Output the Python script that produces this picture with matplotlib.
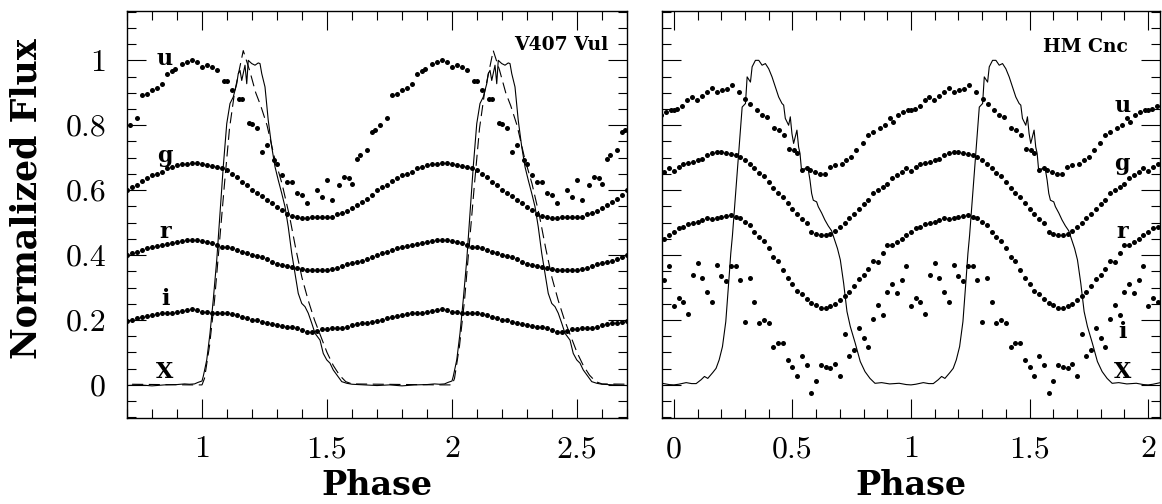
import numpy as np
import matplotlib
matplotlib.use('Agg')
import matplotlib.pyplot as plt
from matplotlib.ticker import MultipleLocator, FormatStrFormatter

# phase grid of the folded optical light curves (one cycle)
grid = [0.00, 0.02, 0.04, 0.06, 0.08, 0.10, 0.12, 0.14, 0.16, 0.18,
        0.20, 0.22, 0.24, 0.26, 0.28, 0.30, 0.32, 0.34, 0.36, 0.38,
        0.40, 0.42, 0.44, 0.46, 0.48, 0.50, 0.52, 0.54, 0.56, 0.58,
        0.60, 0.62, 0.64, 0.66, 0.68, 0.70, 0.72, 0.74, 0.76, 0.78,
        0.80, 0.82, 0.84, 0.86, 0.88, 0.90, 0.92, 0.94, 0.96, 0.98]

# ---- V407 Vul ----
vul_u_ph = [0.00, 0.02, 0.04, 0.06, 0.087, 0.10, 0.12, 0.147, 0.16, 0.187, 0.20, 0.22,
            0.24, 0.26, 0.287, 0.30, 0.32, 0.34, 0.36, 0.38, 0.40, 0.42, 0.46, 0.48,
            0.50, 0.52, 0.547, 0.567, 0.587, 0.60, 0.62, 0.633, 0.66, 0.68, 0.693, 0.713,
            0.74, 0.76, 0.78, 0.80, 0.82, 0.84, 0.86, 0.88, 0.893, 0.92, 0.94, 0.96, 0.98]
vul_u = [0.980, 0.985, 0.980, 0.969, 0.936, 0.936, 0.910, 0.882, 0.882, 0.807, 0.803, 0.790,
         0.718, 0.738, 0.694, 0.682, 0.646, 0.626, 0.626, 0.592, 0.585, 0.559, 0.600, 0.580,
         0.631, 0.569, 0.615, 0.641, 0.636, 0.620, 0.697, 0.708, 0.723, 0.780, 0.785, 0.800,
         0.821, 0.892, 0.897, 0.908, 0.916, 0.928, 0.957, 0.967, 0.974, 0.990, 0.995, 1.000, 0.995]
vul_g = [0.682, 0.677, 0.674, 0.672, 0.667, 0.662, 0.651, 0.641, 0.626, 0.615,
         0.602, 0.592, 0.581, 0.571, 0.559, 0.549, 0.538, 0.528, 0.520, 0.518,
         0.515, 0.515, 0.516, 0.516, 0.516, 0.518, 0.518, 0.526, 0.530, 0.536,
         0.544, 0.554, 0.564, 0.574, 0.585, 0.600, 0.610, 0.617, 0.629, 0.636,
         0.646, 0.651, 0.656, 0.667, 0.672, 0.677, 0.680, 0.682, 0.684, 0.684]
vul_r = [0.444, 0.441, 0.436, 0.431, 0.426, 0.424, 0.421, 0.415, 0.410, 0.405,
         0.400, 0.397, 0.393, 0.387, 0.379, 0.374, 0.369, 0.366, 0.362, 0.359,
         0.356, 0.355, 0.355, 0.355, 0.355, 0.355, 0.356, 0.359, 0.366, 0.372,
         0.377, 0.379, 0.383, 0.387, 0.395, 0.400, 0.405, 0.410, 0.415, 0.421,
         0.424, 0.428, 0.431, 0.434, 0.438, 0.441, 0.444, 0.446, 0.446, 0.446]
vul_i = [0.226, 0.226, 0.223, 0.220, 0.220, 0.220, 0.218, 0.215, 0.210, 0.205,
         0.200, 0.200, 0.195, 0.190, 0.188, 0.185, 0.182, 0.179, 0.177, 0.174,
         0.169, 0.164, 0.164, 0.167, 0.171, 0.173, 0.174, 0.174, 0.174, 0.179,
         0.185, 0.188, 0.190, 0.192, 0.195, 0.198, 0.200, 0.205, 0.208, 0.212,
         0.215, 0.218, 0.220, 0.220, 0.223, 0.226, 0.229, 0.231, 0.233, 0.231]
# X-ray, solid
vul_x_ph = [-0.05, -0.03, -0.015, 0.0, 0.005, 0.019, 0.032, 0.045, 0.059, 0.072, 0.085, 0.099,
            0.112, 0.125, 0.139, 0.145, 0.152, 0.159, 0.165, 0.172, 0.179, 0.185, 0.192, 0.199,
            0.212, 0.225, 0.232, 0.239, 0.252, 0.265, 0.279, 0.292, 0.305, 0.319, 0.332, 0.345,
            0.359, 0.372, 0.385, 0.399, 0.412, 0.425, 0.439, 0.452, 0.472, 0.485, 0.499, 0.512,
            0.525, 0.539, 0.559, 0.579, 0.60, 0.65, 0.70, 0.75, 0.80, 0.85, 0.90, 0.93, 0.95]
vul_x = [0.002, 0.003, 0.008, 0.012, 0.026, 0.077, 0.159, 0.262, 0.385, 0.528, 0.672, 0.805,
         0.867, 0.887, 0.928, 0.959, 0.969, 0.938, 0.959, 0.985, 0.928, 1.0, 0.995, 0.990,
         0.985, 0.992, 0.990, 0.959, 0.918, 0.815, 0.733, 0.672, 0.631, 0.590, 0.549, 0.487,
         0.405, 0.344, 0.282, 0.251, 0.241, 0.221, 0.190, 0.159, 0.138, 0.097, 0.077, 0.067,
         0.046, 0.031, 0.010, 0.005, 0.002, 0.0, -0.002, 0.0, -0.003, 0.0, 0.001, 0.003, 0.002]
# X-ray, dashed
vul_x2_ph = [-0.05, 0.0, 0.01, 0.03, 0.05, 0.07, 0.09, 0.11, 0.13, 0.165, 0.19, 0.215, 0.235, 0.26,
             0.29, 0.32, 0.35, 0.375, 0.40, 0.425, 0.45, 0.475, 0.50, 0.525, 0.55, 0.575, 0.60, 0.95]
vul_x2 = [0.0, 0.0, 0.02, 0.12, 0.26, 0.44, 0.62, 0.79, 0.90, 1.03, 0.97, 0.90, 0.86, 0.80,
          0.70, 0.62, 0.52, 0.42, 0.33, 0.26, 0.20, 0.15, 0.10, 0.06, 0.03, 0.01, 0.003, 0.0]

# ---- HM Cnc ----
hm_u_ph = [0.0, 0.015, 0.036, 0.057, 0.078, 0.099, 0.120, 0.141, 0.162, 0.183, 0.204, 0.225,
           0.246, 0.274, 0.302, 0.323, 0.351, 0.372, 0.393, 0.421, 0.442, 0.463, 0.484, 0.505,
           0.519, 0.539, 0.560, 0.574, 0.595, 0.616, 0.637, 0.658, 0.679, 0.707, 0.728, 0.749,
           0.770, 0.798, 0.819, 0.840, 0.868, 0.889, 0.910, 0.924, 0.945, 0.966, 0.987]
hm_u = [0.846, 0.851, 0.858, 0.877, 0.887, 0.879, 0.889, 0.903, 0.916, 0.903, 0.908, 0.913,
        0.923, 0.903, 0.882, 0.867, 0.846, 0.831, 0.826, 0.790, 0.785, 0.769, 0.728, 0.723,
        0.713, 0.662, 0.667, 0.662, 0.656, 0.651, 0.651, 0.672, 0.677, 0.682, 0.692, 0.703,
        0.723, 0.744, 0.769, 0.780, 0.790, 0.800, 0.821, 0.810, 0.831, 0.841, 0.846]
hm_g = [0.660, 0.672, 0.682, 0.684, 0.687, 0.692, 0.697, 0.708, 0.715, 0.718,
        0.718, 0.713, 0.711, 0.708, 0.703, 0.694, 0.682, 0.667, 0.652, 0.643,
        0.626, 0.608, 0.592, 0.578, 0.560, 0.542, 0.526, 0.510, 0.500, 0.470,
        0.466, 0.461, 0.462, 0.466, 0.474, 0.487, 0.500, 0.514, 0.527, 0.541,
        0.556, 0.569, 0.590, 0.600, 0.610, 0.620, 0.636, 0.646, 0.656, 0.667]
hm_r = [0.472, 0.482, 0.487, 0.495, 0.500, 0.503, 0.508, 0.513, 0.510, 0.513,
        0.518, 0.521, 0.523, 0.518, 0.513, 0.503, 0.492, 0.472, 0.455, 0.443,
        0.421, 0.395, 0.382, 0.354, 0.328, 0.311, 0.289, 0.281, 0.265, 0.253,
        0.245, 0.236, 0.236, 0.244, 0.250, 0.262, 0.274, 0.287, 0.304, 0.325,
        0.340, 0.356, 0.383, 0.379, 0.405, 0.431, 0.431, 0.441, 0.451, 0.462]
hm_i = [0.243, 0.269, 0.254, 0.218, 0.338, 0.376, 0.328, 0.287, 0.254, 0.370,
        0.336, 0.320, 0.367, 0.367, 0.322, 0.194, 0.329, 0.255, 0.192, 0.200,
        0.192, 0.118, 0.128, 0.128, 0.077, 0.056, 0.026, 0.090, 0.062, -0.026,
        0.012, 0.062, 0.055, 0.051, 0.063, 0.026, 0.157, 0.089, 0.106, 0.174,
        0.145, 0.117, 0.202, 0.245, 0.215, 0.287, 0.310, 0.283, 0.324, 0.366]
hm_x_ph = [-0.15, -0.124, -0.09, -0.05, -0.02, 0.0, 0.02, 0.052, 0.075, 0.094, 0.115, 0.129,
           0.143, 0.164, 0.178, 0.191, 0.205, 0.219, 0.226, 0.233, 0.240, 0.247, 0.288, 0.302,
           0.309, 0.323, 0.330, 0.344, 0.358, 0.372, 0.386, 0.400, 0.414, 0.428, 0.442, 0.456,
           0.463, 0.470, 0.484, 0.491, 0.498, 0.505, 0.519, 0.526, 0.532, 0.539, 0.553, 0.567,
           0.574, 0.581, 0.588, 0.602, 0.609, 0.623, 0.637, 0.651, 0.665, 0.678, 0.690, 0.702,
           0.716, 0.730, 0.744, 0.765, 0.786, 0.806, 0.827, 0.848]
hm_x = [0.005, 0.007, 0.003, 0.005, 0.001, 0.0, 0.002, 0.007, 0.004, 0.004, 0.016, 0.026,
        0.020, 0.038, 0.051, 0.077, 0.118, 0.195, 0.262, 0.333, 0.405, 0.460, 0.856, 0.867,
        0.949, 0.933, 0.980, 1.0, 1.0, 0.985, 0.990, 0.974, 0.949, 0.918, 0.887, 0.867,
        0.862, 0.821, 0.800, 0.826, 0.774, 0.744, 0.785, 0.733, 0.713, 0.656, 0.667, 0.662,
        0.631, 0.590, 0.569, 0.564, 0.549, 0.530, 0.508, 0.490, 0.475, 0.446, 0.420, 0.385,
        0.313, 0.226, 0.180, 0.128, 0.072, 0.041, 0.020, 0.005]


def fold(ph, fl, cycles):
    # repeat one cycle of the folded curve over several phases
    x = np.concatenate([np.asarray(ph) + k for k in cycles])
    y = np.tile(fl, len(cycles))
    return x, y


plt.rcParams['font.family'] = 'cmr10'
plt.rcParams['axes.formatter.use_mathtext'] = True

fig = plt.figure(figsize=(11.62, 5.04), dpi=100)
ax1 = fig.add_axes([127 / 1162, 1 - 418 / 504, 500 / 1162, 407 / 504])
ax2 = fig.add_axes([662 / 1162, 1 - 418 / 504, 498 / 1162, 407 / 504])

dot = dict(ls='none', marker='o', ms=3.6, color='black', mew=0)
lab = dict(fontfamily='DejaVu Serif', fontweight='bold', fontsize=16)
ttl = dict(fontfamily='DejaVu Serif', fontweight='bold', fontsize=13.5)
axlab = dict(fontfamily='DejaVu Serif', fontweight='bold', fontsize=24)

# V407 Vul
cyc = (0, 1, 2)
for ph, fl in [(vul_u_ph, vul_u), (grid, vul_g), (grid, vul_r), (grid, vul_i)]:
    ax1.plot(*fold(ph, fl, cyc), **dot)
ax1.plot(*fold(vul_x_ph, vul_x, cyc), color='black', lw=0.8)
ax1.plot(*fold(vul_x2_ph, vul_x2, cyc), color='black', lw=0.8, ls=(0, (10, 5)))
ax1.set_xlim(0.7, 2.7)
for s, yy in zip('ugriX', [0.985, 0.686, 0.452, 0.246, 0.022]):
    ax1.text(0.852, yy, s, ha='center', va='baseline', **lab)
ax1.text(2.624, 1.031, 'V407 Vul', ha='right', va='baseline', **ttl)

# HM Cnc
cyc = (-1, 0, 1, 2)
for ph, fl in [(hm_u_ph, hm_u), (grid, hm_g), (grid, hm_r), (grid, hm_i)]:
    ax2.plot(*fold(ph, fl, cyc), **dot)
ax2.plot(*fold(hm_x_ph, hm_x, cyc), color='black', lw=0.8)
ax2.set_xlim(-0.05, 2.05)
for s, yy in zip('ugriX', [0.84, 0.662, 0.452, 0.145, 0.022]):
    ax2.text(1.891, yy, s, ha='center', va='baseline', **lab)
ax2.text(1.916, 1.025, 'HM Cnc', ha='right', va='baseline', **ttl)

for ax in (ax1, ax2):
    ax.set_ylim(-0.102, 1.152)
    ax.xaxis.set_major_locator(MultipleLocator(0.5))
    ax.xaxis.set_minor_locator(MultipleLocator(0.1))
    ax.yaxis.set_major_locator(MultipleLocator(0.2))
    ax.yaxis.set_minor_locator(MultipleLocator(0.05))
    ax.xaxis.set_major_formatter(FormatStrFormatter('%g'))
    ax.yaxis.set_major_formatter(FormatStrFormatter('%g'))
    ax.tick_params(which='both', direction='in', top=True, right=True, width=0.8,
                   labelsize=23)
    ax.tick_params(which='major', length=14)
    ax.tick_params(which='minor', length=6.5)
    ax.tick_params(axis='x', pad=13)
    ax.tick_params(axis='y', pad=15)
    for sp in ax.spines.values():
        sp.set_linewidth(1.0)
    ax.set_xlabel('Phase', va='baseline', **axlab)
    ax.xaxis.set_label_coords(0.5, -0.19)

ax2.tick_params(labelleft=False)
ax1.set_ylabel('Normalized Flux', va='baseline', fontfamily='DejaVu Serif',
               fontweight='bold', fontsize=25)
ax1.yaxis.set_label_coords(-0.18, 0.538)

fig.savefig('out.png', dpi=100)
